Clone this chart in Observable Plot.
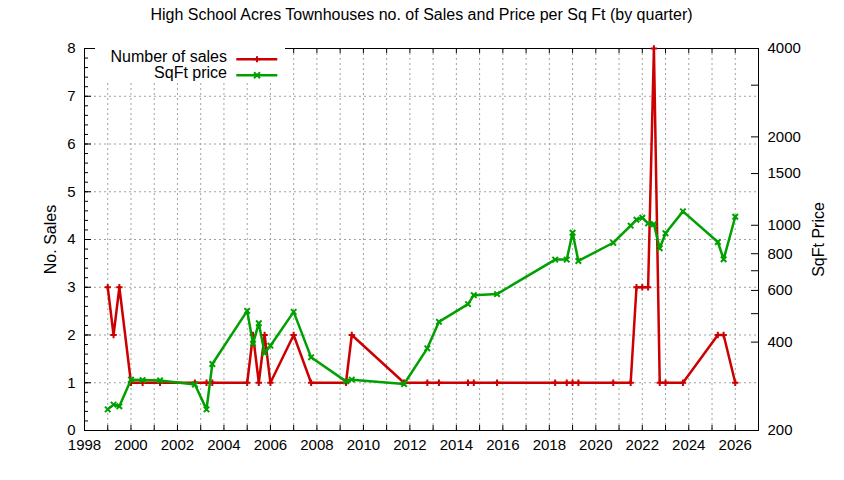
<!DOCTYPE html>
<html><head><meta charset="utf-8">
<script src="https://cdn.jsdelivr.net/npm/d3@7"></script>
<script src="https://cdn.jsdelivr.net/npm/@observablehq/plot@0.6"></script>
<style>
body{margin:0;background:#fff;}
#wrap{position:relative;width:844px;height:480px;font-family:"Liberation Sans",Arial,sans-serif;}
#legend{position:absolute;left:95px;top:48px;width:190px;height:34px;background:#fff;}
.lrow{position:absolute;left:0;width:132px;height:16px;text-align:right;font-size:16px;line-height:16px;color:#000;white-space:nowrap;}
#legend svg{position:absolute;left:0;top:0;}
</style></head><body><div id="wrap"></div>
<script>
const titleText = "High School Acres Townhouses no. of Sales and Price per Sq Ft (by quarter)";
const quarters = [1999.0,1999.25,1999.5,2000.0,2000.5,2001.25,2002.75,2003.25,2003.5,2005.0,2005.25,2005.5,2005.75,2006.0,2007.0,2007.75,2009.25,2009.5,2011.75,2012.75,2013.25,2014.5,2014.75,2015.75,2018.25,2018.75,2019.0,2019.25,2020.75,2021.5,2021.75,2022.0,2022.25,2022.5,2022.75,2023.0,2023.75,2025.25,2025.5,2026.0];
const sales = [3,2,3,1,1,1,1,1,1,1,2,1,2,1,2,1,1,2,1,1,1,1,1,1,1,1,1,1,1,1,3,3,3,8,1,1,1,2,2,1];
const sqftPrice = [236,245,242,298,297,296,287,236,337,511,395,464,367,389,507,355,294,298,288,381,469,539,578,583,764,764,943,756,872,997,1044,1061,1015,1008,835,939,1115,877,766,1069];
const salesTicks = [0,1,2,3,4,5,6,7,8];
const yearLabels = [1998,2000,2002,2004,2006,2008,2010,2012,2014,2016,2018,2020,2022,2024,2026];
const yearTicks = d3.range(1998, 2027);
const priceTicks = [200,400,600,800,1000,1500,2000,4000];
const priceMinorTicks = [500,700,3000];
const seriesNames = ["Number of sales","SqFt price"];
const seriesColors = ["#cc0000","#00a000"];

const W = 844, H = 480, ML = 84, MR = 86, MT = 48, MB = 50;
const FW = W - ML - MR, FH = H - MT - MB;
const PMIN = 200, PMAX = 4000, SMAX = 8;
const toY = p => SMAX * Math.log(p / PMIN) / Math.log(PMAX / PMIN);
const fromY = y => PMIN * Math.pow(PMAX / PMIN, y / SMAX);
const data = quarters.map((q, i) => ({q, sales: sales[i], price: sqftPrice[i]}));
const minorSales = d3.range(0, 40).map(i => i / 5);
const gridStyle = {stroke:"#a0a0a0", strokeOpacity:1, strokeDasharray:"2,3", strokeWidth:1};

const chart = Plot.plot({
  width: W, height: H, marginLeft: ML, marginRight: MR, marginTop: MT, marginBottom: MB,
  x: {domain: [1998, 2027]},
  y: {domain: [0, SMAX]},
  style: {fontFamily: '"Liberation Sans", Arial, sans-serif', fontSize: "15px", color: "#000", background: "#fff"},
  marks: [
    Plot.gridX(yearTicks.slice(1), gridStyle),
    Plot.gridY(salesTicks.slice(1, -1), gridStyle),
    Plot.tickX(yearTicks, {x: d => d, insetTop: FH - 5, stroke: "#000"}),
    Plot.tickX(yearTicks, {x: d => d, insetBottom: FH - 5, stroke: "#000"}),
    Plot.tickY(salesTicks, {y: d => d, insetRight: FW - 7, stroke: "#000"}),
    Plot.tickY(minorSales, {y: d => d, insetRight: FW - 4, stroke: "#000"}),
    Plot.tickY(priceTicks.concat(priceMinorTicks).map(toY), {y: d => d, insetLeft: FW - 7, stroke: "#000"}),
    Plot.frame({stroke: "#000", strokeWidth: 1}),
    Plot.axisX(yearLabels, {tickSize: 0, tickPadding: 9, tickFormat: d => String(d), label: null, fontSize: 15}),
    Plot.axisY(salesTicks, {tickSize: 0, tickPadding: 9, tickFormat: d => String(d), label: null, fontSize: 15}),
    Plot.axisY(priceTicks.map(toY), {anchor: "right", tickSize: 0, tickPadding: 9, tickFormat: d => String(Math.round(fromY(d))), label: null, fontSize: 15}),
    Plot.text([titleText], {frameAnchor: "top", dy: -34, textAnchor: "middle", lineAnchor: "middle", fontSize: 16}),
    Plot.text(["No. Sales"], {frameAnchor: "left", dx: -34, rotate: -90, textAnchor: "middle", lineAnchor: "middle", fontSize: 16}),
    Plot.text(["SqFt Price"], {frameAnchor: "right", dx: 60, rotate: -90, textAnchor: "middle", lineAnchor: "middle", fontSize: 16}),
    Plot.line(data, {x: "q", y: "sales", stroke: seriesColors[0], strokeWidth: 2.5}),
    Plot.dot(data, {x: "q", y: "sales", symbol: "plus", stroke: seriesColors[0], strokeWidth: 2, r: 2.2}),
    Plot.line(data, {x: "q", y: d => toY(d.price), stroke: seriesColors[1], strokeWidth: 2.5}),
    Plot.dot(data, {x: "q", y: d => toY(d.price), symbol: "times", stroke: seriesColors[1], strokeWidth: 2, r: 2.6})
  ]
});
const wrap = document.getElementById("wrap");
wrap.appendChild(chart);

// legend overlay
const legend = document.createElement("div");
legend.id = "legend";
const ns = "http://www.w3.org/2000/svg";
const lsvg = document.createElementNS(ns, "svg");
lsvg.setAttribute("width", 190); lsvg.setAttribute("height", 34);
seriesNames.forEach((name, i) => {
  const row = document.createElement("div");
  row.className = "lrow";
  row.style.top = (i === 0 ? 1.3 : 17.3) + "px";
  row.textContent = name;
  legend.appendChild(row);
  const y = i === 0 ? 11.3 : 27.3;
  const line = document.createElementNS(ns, "line");
  line.setAttribute("x1", 141.3); line.setAttribute("x2", 182.3);
  line.setAttribute("y1", y); line.setAttribute("y2", y);
  line.setAttribute("stroke", seriesColors[i]); line.setAttribute("stroke-width", 2.5);
  lsvg.appendChild(line);
  const m = document.createElementNS(ns, "path");
  const cx = 162, a = 3;
  m.setAttribute("d", i === 0
    ? `M${cx - a},${y}H${cx + a}M${cx},${y - a}V${y + a}`
    : `M${cx - a},${y - a}L${cx + a},${y + a}M${cx - a},${y + a}L${cx + a},${y - a}`);
  m.setAttribute("stroke", seriesColors[i]); m.setAttribute("stroke-width", 2); m.setAttribute("fill", "none");
  lsvg.appendChild(m);
});
legend.appendChild(lsvg);
wrap.appendChild(legend);
</script>
</body></html>
